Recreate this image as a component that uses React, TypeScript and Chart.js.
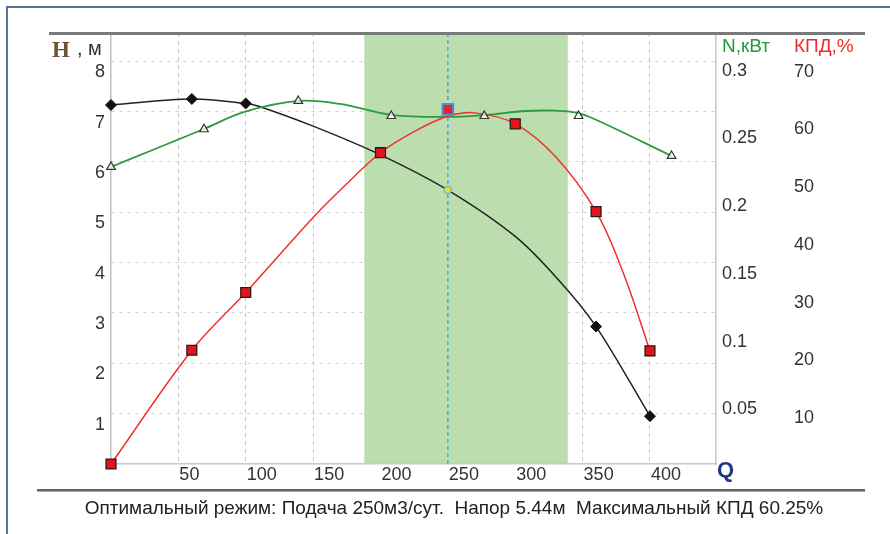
import React, { useEffect, useRef } from 'react';
import { Chart, registerables } from 'chart.js';

Chart.register(...registerables);

// ---- tick labels ----
const qTicks = [50, 100, 150, 200, 250, 300, 350, 400];
const hTicks = [1, 2, 3, 4, 5, 6, 7, 8];
const nTicks = [0.05, 0.1, 0.15, 0.2, 0.25, 0.3];
const kpdTicks = [10, 20, 30, 40, 50, 60, 70];

// ---- head curve H, m ----
const hLineQ = [0, 60, 100, 109, 150, 200, 250, 300, 333, 360, 400];
const hLineVal = [7.13, 7.25, 7.16, 7.11, 6.71, 6.14, 5.44, 4.52, 3.63, 2.73, 0.95];
const hMarkQ = [0, 60, 100, 360, 400];
const hMarkVal = [7.13, 7.25, 7.16, 2.73, 0.95];

// ---- power curve N, kW ----
const nLineQ = [0, 69, 99, 139, 170, 208, 250, 278, 308, 330, 347, 362, 416];
const nLineVal = [0.2194, 0.2474, 0.26, 0.2681, 0.2659, 0.2578, 0.2563, 0.2578, 0.2607, 0.2609, 0.2592, 0.2533, 0.2275];
const nMarkQ = [0, 69, 139, 208, 277, 347, 416];
const nMarkVal = [0.2194, 0.2472, 0.2681, 0.257, 0.257, 0.257, 0.2275];

// ---- efficiency curve, % ----
const kLineQ = [0, 60, 100, 150, 170, 200, 227, 250, 270, 300, 330, 360, 380, 400];
const kLineVal = [0, 19.7, 29.7, 42.7, 47.4, 53.9, 57.8, 60.2, 60.8, 58.9, 53.2, 43.7, 33.2, 19.6];
const kMarkQ = [0, 60, 100, 200, 300, 360, 400];
const kMarkVal = [0, 19.7, 29.7, 53.9, 58.9, 43.7, 19.6];

// ---- optimum ----
const optQ = 250;
const optH = 5.44;
const optKpd = 61.4;
const bandFrom = 188;
const bandTo = 339;

const caption = 'Оптимальный режим: Подача 250м3/сут.  Напор 5.44м  Максимальный КПД 60.25%';

const FONT = '"Liberation Sans", Arial, sans-serif';

const pts = (qs: number[], vs: number[]) => qs.map((q, i) => ({ x: q, y: vs[i] }));

const decor = {
  id: 'decor',
  beforeDatasetsDraw(chart: any) {
    const { ctx, chartArea, scales } = chart;
    const xs = scales.x;
    const x1 = xs.getPixelForValue(bandFrom);
    const x2 = xs.getPixelForValue(bandTo);
    ctx.save();
    ctx.fillStyle = '#bcddae';
    ctx.fillRect(x1, chartArea.top, x2 - x1, chartArea.bottom - chartArea.top - 1);
    const xo = xs.getPixelForValue(optQ);
    ctx.strokeStyle = '#4fa3e3';
    ctx.lineWidth = 1.5;
    ctx.setLineDash([4, 3]);
    ctx.beginPath();
    ctx.moveTo(xo, chartArea.top);
    ctx.lineTo(xo, chartArea.bottom);
    ctx.stroke();
    ctx.restore();
  },
  afterDraw(chart: any) {
    const { ctx } = chart;
    ctx.save();
    // outer frame
    ctx.fillStyle = '#56739c';
    ctx.fillRect(6, 6, 884, 2);
    ctx.fillRect(6, 6, 2, 528);
    // top rule
    ctx.fillStyle = '#7a7a7a';
    ctx.fillRect(49, 32, 816, 3);
    // caption rule
    ctx.fillStyle = '#666';
    ctx.fillRect(37, 489, 828, 2);
    ctx.fillStyle = '#aaa';
    ctx.fillRect(37, 491, 828, 1);

    // axis titles
    ctx.textBaseline = 'alphabetic';
    ctx.textAlign = 'left';
    ctx.font = 'bold 23px "Liberation Serif", serif';
    ctx.fillStyle = '#6b5436';
    ctx.fillText('H', 52, 57);
    ctx.font = '20px ' + FONT;
    ctx.fillStyle = '#333';
    ctx.fillText(', м', 77, 55);

    ctx.textBaseline = 'middle';
    ctx.font = '19px ' + FONT;
    ctx.fillStyle = '#23993a';
    ctx.fillText('N,кВт', 722, 47);
    ctx.fillStyle = '#ef2b2b';
    ctx.fillText('КПД,%', 794, 47);

    ctx.font = 'bold 22px ' + FONT;
    ctx.fillStyle = '#1d3b7f';
    ctx.fillText('Q', 717, 471);

    ctx.font = '19px ' + FONT;
    ctx.fillStyle = '#222';
    ctx.textAlign = 'center';
    ctx.fillText(caption, 454, 509);
    ctx.restore();
  },
};

const setTicks = (arr: number[]) => (scale: any) => {
  scale.ticks = arr.map((v) => ({ value: v }));
};

export default function App() {
  const ref = useRef<HTMLCanvasElement | null>(null);
  useEffect(() => {
    document.body.style.margin = '0';
    const canvas = ref.current;
    if (!canvas) return;
    const tickFont = { family: FONT, size: 18 };
    const chart = new Chart(canvas, {
      type: 'scatter',
      data: {
        datasets: [
          {
            data: [{ x: optQ, y: optH }],
            yAxisID: 'yH',
            pointStyle: 'circle',
            pointRadius: 3.5,
            pointBackgroundColor: '#f2e600',
            pointBorderColor: '#6cb4e8',
            pointBorderWidth: 1.5,
            showLine: false,
            clip: false,
          },
          {
            data: [{ x: optQ, y: optKpd }],
            yAxisID: 'yK',
            pointStyle: 'rect',
            pointRadius: 7.5,
            pointBackgroundColor: '#e8202a',
            pointBorderColor: '#4a90e0',
            pointBorderWidth: 2,
            showLine: false,
            clip: false,
          },
          {
            data: pts(kMarkQ, kMarkVal),
            yAxisID: 'yK',
            pointStyle: 'rect',
            pointRadius: 7,
            pointBackgroundColor: '#e3141e',
            pointBorderColor: '#2a1a1a',
            pointBorderWidth: 1.3,
            showLine: false,
            clip: false,
          },
          {
            data: pts(nMarkQ, nMarkVal),
            yAxisID: 'yN',
            pointStyle: 'triangle',
            pointRadius: 5,
            pointBackgroundColor: 'rgba(255,255,255,0.75)',
            pointBorderColor: '#333',
            pointBorderWidth: 1.2,
            showLine: false,
            clip: false,
          },
          {
            data: pts(hMarkQ, hMarkVal),
            yAxisID: 'yH',
            pointStyle: 'rectRot',
            pointRadius: 5.5,
            pointBackgroundColor: '#111',
            pointBorderColor: '#111',
            pointBorderWidth: 1,
            showLine: false,
            clip: false,
          },
          {
            data: pts(kLineQ, kLineVal),
            yAxisID: 'yK',
            showLine: true,
            borderColor: '#f0302c',
            borderWidth: 1.5,
            pointRadius: 0,
            tension: 0.35,
            clip: false,
          },
          {
            data: pts(nLineQ, nLineVal),
            yAxisID: 'yN',
            showLine: true,
            borderColor: '#2e9a3e',
            borderWidth: 1.8,
            pointRadius: 0,
            tension: 0.35,
            clip: false,
          },
          {
            data: pts(hLineQ, hLineVal),
            yAxisID: 'yH',
            showLine: true,
            borderColor: '#222',
            borderWidth: 1.5,
            pointRadius: 0,
            tension: 0.35,
            clip: false,
          },
        ],
      },
      options: {
        responsive: false,
        animation: false,
        events: [],
        layout: { padding: { left: 0, top: 33, right: 0, bottom: 0 } },
        plugins: { legend: { display: false }, tooltip: { enabled: false }, title: { display: false } },
        scales: {
          x: {
            type: 'linear',
            position: 'bottom',
            min: 0,
            max: 449,
            afterBuildTicks: setTicks(qTicks),
            afterFit: (s: any) => { s.height = 70; },
            grid: { color: '#c4c4c4', drawTicks: false, lineWidth: 1 },
            border: { display: true, color: '#c8c8c8', width: 1.5, dash: [4, 4] },
            ticks: { font: tickFont, color: '#333', padding: 0, align: 'start', labelOffset: 1, maxRotation: 0, autoSkip: false },
          },
          yH: {
            type: 'linear',
            position: 'left',
            min: 0,
            max: 8.56,
            afterBuildTicks: setTicks(hTicks),
            afterFit: (s: any) => { s.width = 111; },
            grid: { color: '#cfcfcf', drawTicks: false, lineWidth: 1 },
            border: { display: true, color: '#c0c0c0', width: 1.5, dash: [3, 5] },
            ticks: { font: tickFont, color: '#333', padding: 6, labelOffset: 11, autoSkip: false },
          },
          yN: {
            type: 'linear',
            position: 'right',
            weight: 1,
            min: 0,
            max: 0.3183,
            afterBuildTicks: setTicks(nTicks),
            afterFit: (s: any) => { s.width = 77; },
            grid: { drawOnChartArea: false, drawTicks: false },
            border: { display: true, color: '#c8c8c8', width: 1.5 },
            ticks: { font: tickFont, color: '#333', padding: 6, labelOffset: 13, autoSkip: false, callback: (v: any) => String(v) },
          },
          yK: {
            type: 'linear',
            position: 'right',
            weight: 2,
            min: 0,
            max: 74.63,
            afterBuildTicks: setTicks(kpdTicks),
            afterFit: (s: any) => { s.width = 97; },
            grid: { drawOnChartArea: false, drawTicks: false },
            border: { display: false },
            ticks: { font: tickFont, color: '#333', padding: 1, labelOffset: 12, autoSkip: false },
          },
        },
      },
      plugins: [decor],
    } as any);
    return () => chart.destroy();
  }, []);
  return (
    <div style={{ position: 'absolute', left: 0, top: 0, width: 890, height: 534, background: '#fff' }}>
      <canvas ref={ref} width={890} height={534} style={{ display: 'block', width: 890, height: 534 }} />
    </div>
  );
}
